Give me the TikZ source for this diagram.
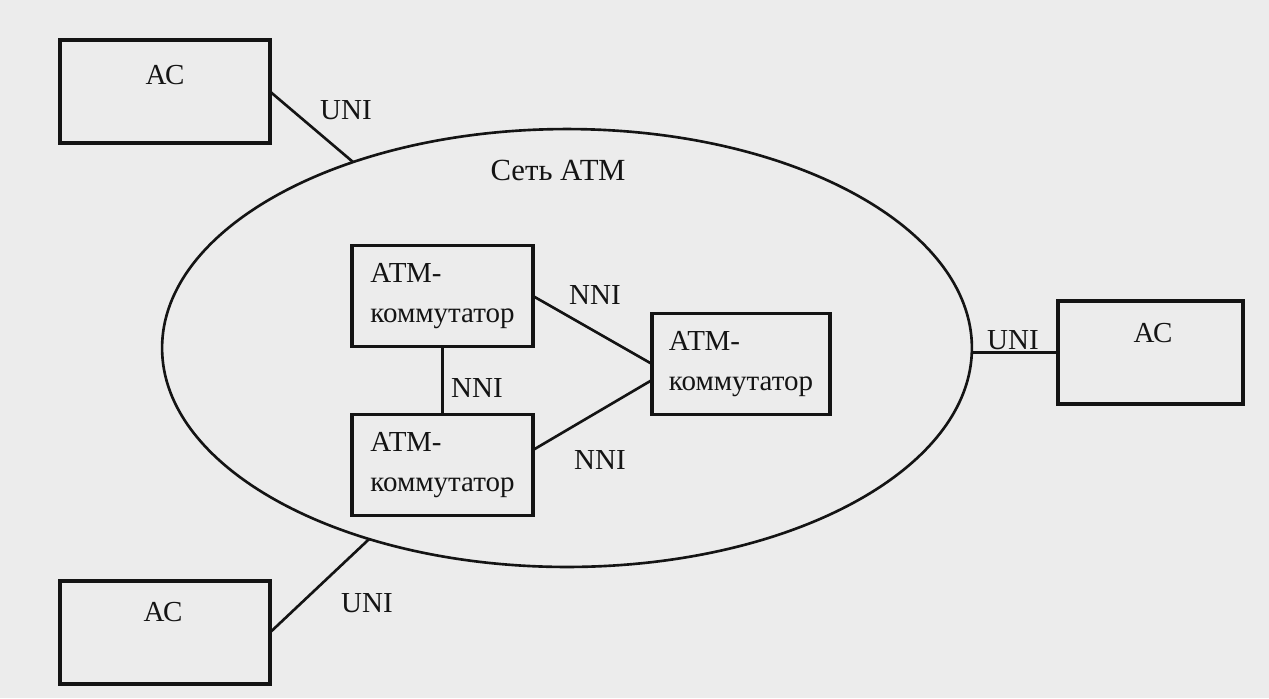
\documentclass[tikz,border=0pt]{standalone}
\usepackage{fontspec}
\setmainfont{Liberation Serif}
\usetikzlibrary{shapes.geometric,calc}
\definecolor{paper}{RGB}{236,236,236}
\definecolor{ink}{RGB}{20,20,20}
\tikzset{
  txt/.style={inner sep=0pt, text=ink, font=\fontsize{16.5}{24}\selectfont},
  acbox/.style={draw=ink, line width=1.8pt, minimum width=4.2cm, minimum height=2.06cm, outer sep=0pt, inner sep=0pt},
  swbox/.style={draw=ink, line width=1.8pt, minimum height=2.02cm, outer sep=0pt, inner xsep=0.24cm, inner ysep=0pt, align=left, text=ink, font=\fontsize{16.5}{23}\selectfont},
  link/.style={draw=ink, line width=1.5pt},
  net/.style={draw=ink, line width=1.5pt, ellipse, minimum width=16.2cm, minimum height=8.76cm, outer sep=0pt, inner sep=0pt}
}
\begin{document}
\begin{tikzpicture}[x=0.02cm,y=-0.02cm]
\fill[paper] (0,0) rectangle (1269,698);
\useasboundingbox (0,0) rectangle (1269,698);

\node[net] (net) at (567,348) {};
\node[txt, font=\fontsize{17.5}{24}\selectfont] (nettxt) at (558,170) {Сеть АТМ};

% AC boxes
\node[acbox] (ac1) at (165,91.5) {};
\node[txt] (ac1t) at (165,75) {АС};
\node[acbox] (ac2) at (165,632.5) {};
\node[txt] (ac2t) at (163,612) {АС};
\node[acbox, minimum width=3.7cm] (ac3) at (1150.5,352.5) {};
\node[txt] (ac3t) at (1153,333) {АС};

% switches
\node[swbox, minimum width=3.62cm] (s1) at (442.5,296) {АТМ-\\коммутатор};
\node[swbox, minimum width=3.62cm] (s2) at (442.5,465) {АТМ-\\коммутатор};
\node[swbox, minimum width=3.56cm] (s3) at (741,364) {АТМ-\\коммутатор};

% UNI links
\draw[link] (ac1.east) -- (net.139.2);
\node[txt] (uni1) at (346,110) {UNI};
\draw[link] (ac2.east) -- (net.224.6);
\node[txt] (uni2) at (367,603) {UNI};
\draw[link] (ac3.west) -- (ac3.west -| net.east);
\node[txt] (uni3) at (1013,340) {UNI};

% NNI links
\draw[link] (s1.east) -- (s3.west);
\draw[link] ($(s2.east)+(0,-15)$) -- ($(s3.west)+(0,16)$);
\draw[link] (s1.south) -- (s2.north);
\node[txt] (nni1) at (595,295) {NNI};
\node[txt] (nni2) at (477,388) {NNI};
\node[txt] (nni3) at (600,460) {NNI};
\end{tikzpicture}
\end{document}
